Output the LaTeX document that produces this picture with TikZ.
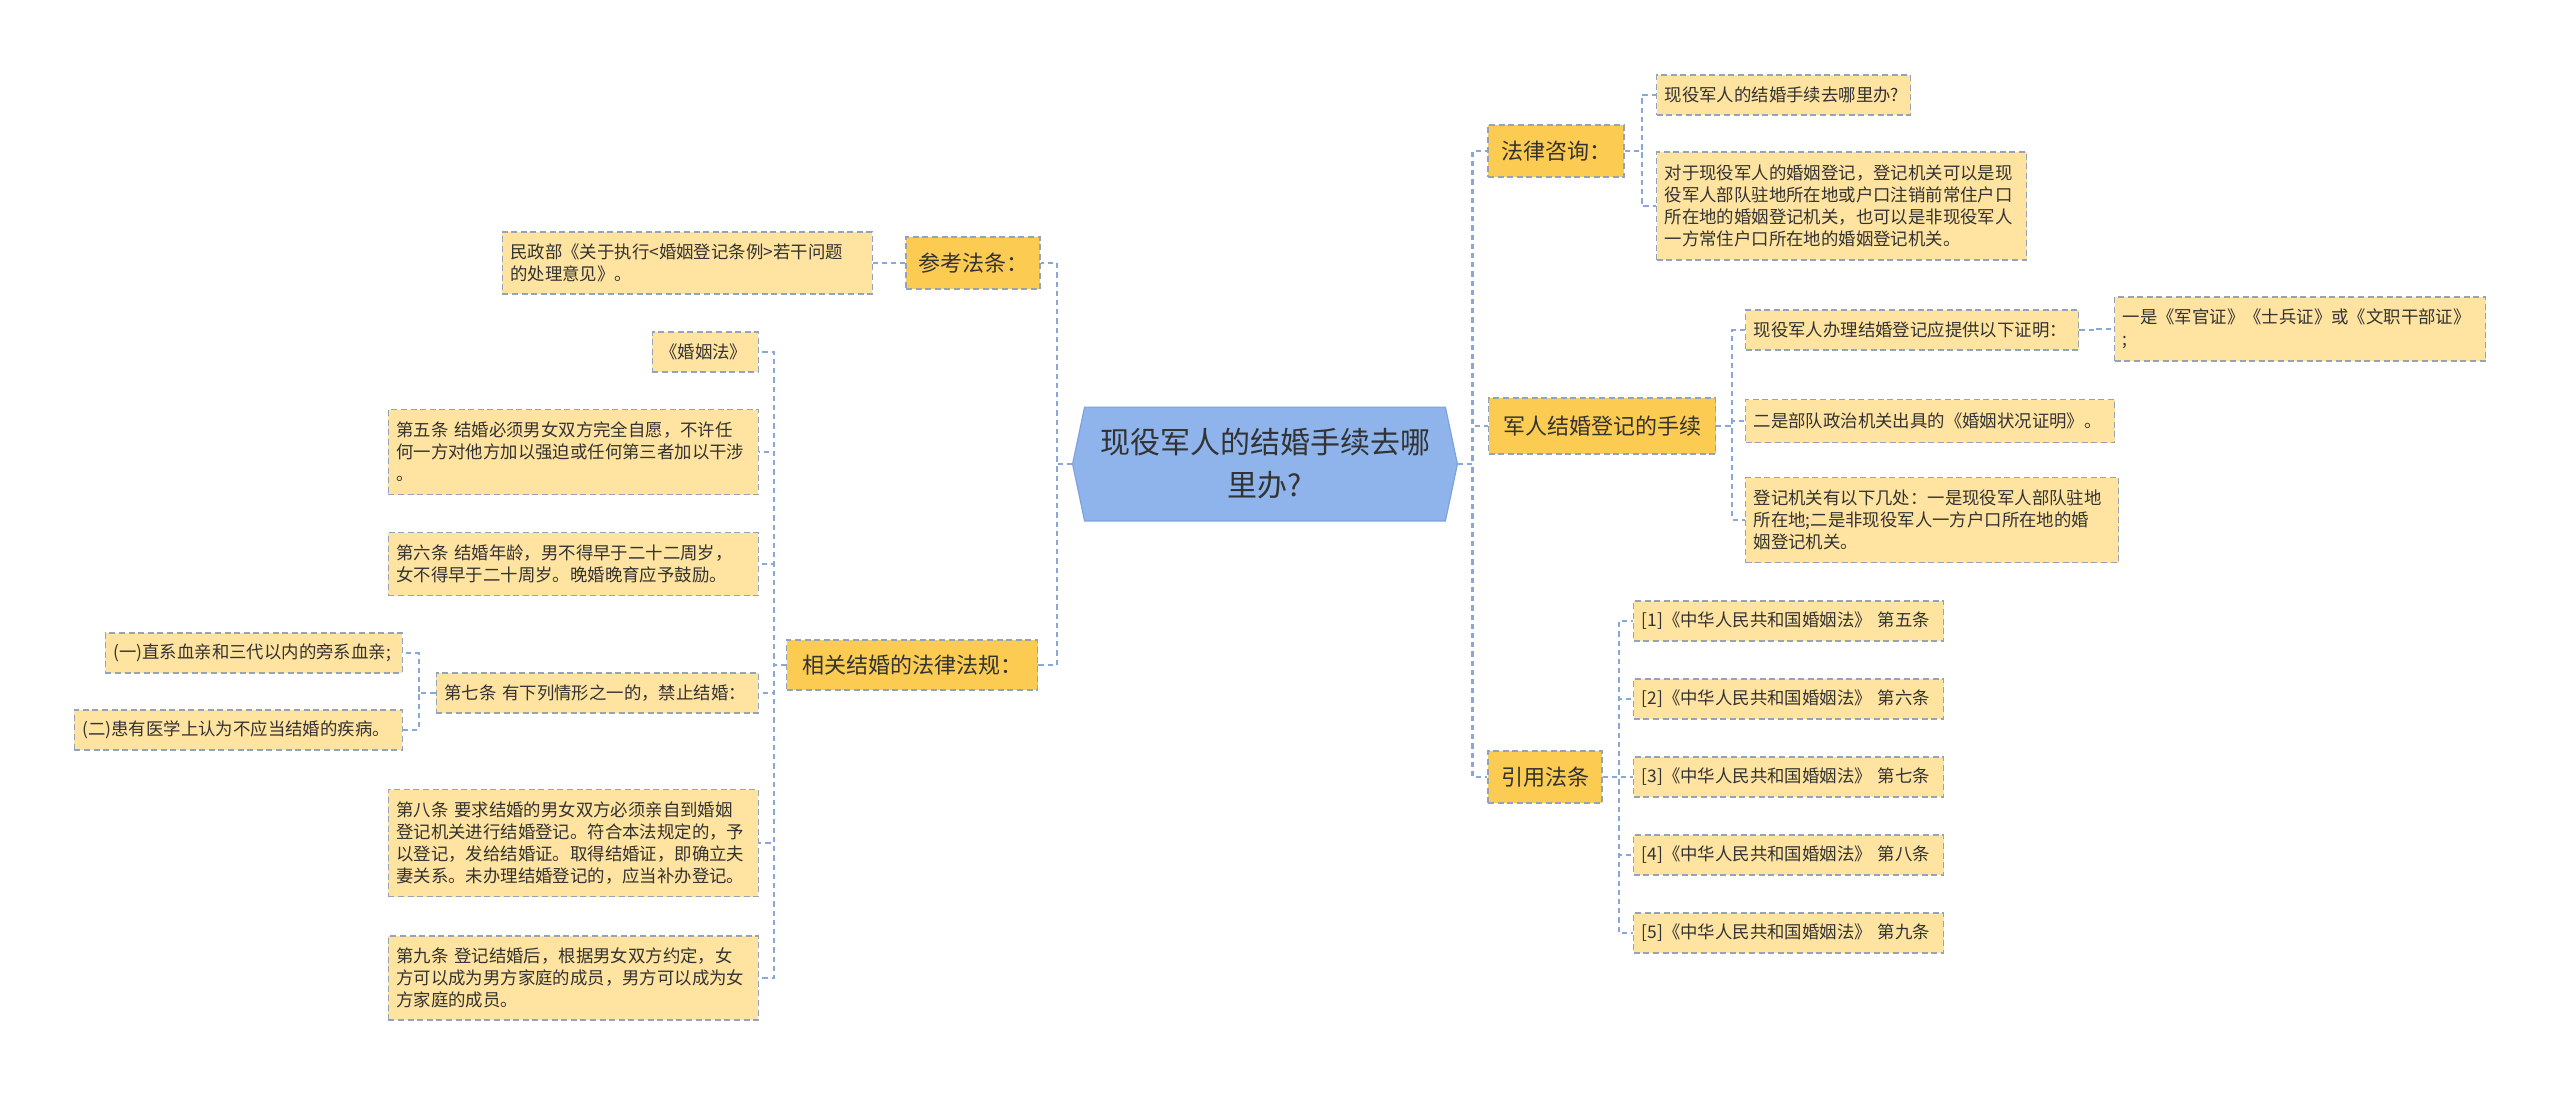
\documentclass[tikz,border=0pt]{standalone}
\usepackage{fontspec}
\newfontfamily\cjk{Noto Sans CJK SC}
\usetikzlibrary{positioning,backgrounds}
\definecolor{rootblue}{HTML}{8FB4EC}
\definecolor{rootline}{HTML}{7EA2DC}
\definecolor{topicgold}{HTML}{FBCB52}
\definecolor{leafyellow}{HTML}{FFE3A0}
\definecolor{boxline}{HTML}{95A3B8}
\definecolor{linkblue}{HTML}{89A7D8}
\definecolor{inkgray}{HTML}{333333}

\begin{document}
\begin{tikzpicture}[x=0.5pt,y=-0.5pt]
        \tikzstyle{conn}=[draw=linkblue, line width=1.1pt, dash pattern=on 2.6pt off 2pt]
        \tikzstyle{topic}=[draw=boxline, fill=topicgold, line width=0.7pt, dash pattern=on 3pt off 1.8pt, text=inkgray, font=\cjk\fontsize{11}{13}\selectfont, inner sep=0pt, minimum height=26pt]
        \tikzstyle{leaf}=[draw=boxline, fill=leafyellow, line width=0.7pt, dash pattern=on 3pt off 1.8pt, text=inkgray, font=\cjk\fontsize{8.7}{11}\selectfont, align=left, inner xsep=4pt, inner ysep=2pt, minimum height=20pt]

        \useasboundingbox (0,0) rectangle (2560,1097);

        \node[font=\cjk\fontsize{15}{21.5}\selectfont, text=inkgray, align=center, inner sep=0pt, minimum width=192pt, minimum height=56.5pt] (root) at (1265,464) {现役军人的结婚手续去哪\\里办?};

        % left side
        \node[topic, minimum width=67pt] (ckfl) at (973,263) {参考法条：};
        \node[topic, minimum width=125.5pt, minimum height=25pt] (xgfl) at (912,665) {相关结婚的法律法规：};

        \node[leaf, text width=177pt, minimum height=31pt, anchor=east] (mzb) at (873,263) {民政部《关于执行<婚姻登记条例>若干问题\\的处理意见》。};
        \node[leaf, text width=45pt, anchor=east] (hyf) at (759,352) {《婚姻法》};
        \node[leaf, text width=177pt, minimum height=42.5pt, anchor=east] (d5) at (759,452) {第五条 结婚必须男女双方完全自愿，不许任\\何一方对他方加以强迫或任何第三者加以干涉\\。};
        \node[leaf, text width=177pt, minimum height=31.5pt, anchor=east] (d6) at (759,564) {第六条 结婚年龄，男不得早于二十二周岁，\\女不得早于二十周岁。晚婚晚育应予鼓励。};
        \node[leaf, text width=153pt, anchor=east] (d7) at (759,693) {第七条 有下列情形之一的，禁止结婚：};
        \node[leaf, text width=140.5pt, anchor=east] (c1) at (403,653) {(一)直系血亲和三代以内的旁系血亲;};
        \node[leaf, text width=156pt, anchor=east] (c2) at (403,730) {(二)患有医学上认为不应当结婚的疾病。};
        \node[leaf, text width=177pt, minimum height=53.5pt, anchor=east] (d8) at (759,843) {第八条 要求结婚的男女双方必须亲自到婚姻\\登记机关进行结婚登记。符合本法规定的，予\\以登记，发给结婚证。取得结婚证，即确立夫\\妻关系。未办理结婚登记的，应当补办登记。};
        \node[leaf, text width=177pt, minimum height=42pt, anchor=east] (d9) at (759,978) {第九条 登记结婚后，根据男女双方约定，女\\方可以成为男方家庭的成员，男方可以成为女\\方家庭的成员。};

        % right side
        \node[topic, minimum width=68pt] (flzx) at (1556,151) {法律咨询：};
        \node[topic, minimum width=113.5pt, minimum height=28pt] (jrsx) at (1602,426) {军人结婚登记的手续};
        \node[topic, minimum width=57pt] (yyft) at (1545,777) {引用法条};

        \node[leaf, text width=119pt, anchor=west] (q1) at (1656,95) {现役军人的结婚手续去哪里办?};
        \node[leaf, text width=177pt, minimum height=54pt, anchor=west] (q2) at (1656,206) {对于现役军人的婚姻登记，登记机关可以是现\\役军人部队驻地所在地或户口注销前常住户口\\所在地的婚姻登记机关，也可以是非现役军人\\一方常住户口所在地的婚姻登记机关。};
        \node[leaf, text width=158.5pt, anchor=west] (r1) at (1745,330) {现役军人办理结婚登记应提供以下证明：};
        \node[leaf, text width=177.5pt, minimum height=32pt, anchor=west] (r1a) at (2114,329) {一是《军官证》《士兵证》或《文职干部证》\\;};
        \node[leaf, text width=176.5pt, minimum height=21.5pt, anchor=west] (r2) at (1745,421) {二是部队政治机关出具的《婚姻状况证明》。};
        \node[leaf, text width=178.5pt, minimum height=42.5pt, anchor=west] (r3) at (1745,520) {登记机关有以下几处：一是现役军人部队驻地\\所在地;二是非现役军人一方户口所在地的婚\\姻登记机关。};
        \foreach \idx/\art/\yy in {1/五/621, 2/六/699, 3/七/777, 4/八/855, 5/九/933}
            \node[leaf, text width=147pt, anchor=west] (cite\idx) at (1633,\yy) {[\idx]《中华人民共和国婚姻法》 第\art 条};

        \begin{scope}[on background layer]
            \fill[white] (0,0) rectangle (2560,1097);
            \filldraw[fill=rootblue, draw=rootline, line width=0.6pt] (root.west) -- ([xshift=6pt]root.north west) -- ([xshift=-6pt]root.north east) -- (root.east) -- ([xshift=-6pt]root.south east) -- ([xshift=6pt]root.south west) -- cycle;
        \end{scope}

        \draw[conn] (root.west) -- ++(-16,0) |- (ckfl.east);
        \draw[conn] (root.west) -- ++(-16,0) |- (xgfl.east);
        \draw[conn] (ckfl.west) -- (mzb.east);
        \foreach \c in {hyf,d5,d6,d7,d8,d9}
            \draw[conn] (xgfl.west) -- ++(-12,0) |- (\c.east);
        \draw[conn] (d7.west) -- ++(-17,0) |- (c1.east);
        \draw[conn] (d7.west) -- ++(-17,0) |- (c2.east);

        \foreach \c in {flzx,jrsx,yyft}
            \draw[conn] (root.east) -- ++(15,0) |- (\c.west);
        \draw[conn] (flzx.east) -- ++(17,0) |- (q1.west);
        \draw[conn] (flzx.east) -- ++(17,0) |- (q2.west);
        \foreach \c in {r1,r2,r3}
            \draw[conn] (jrsx.east) -- ++(16,0) |- (\c.west);
        \draw[conn] (r1.east) -- ++(18,0) |- (r1a.west);
        \foreach \idx in {1,...,5}
            \draw[conn] (yyft.east) -- ++(16,0) |- (cite\idx.west);
\end{tikzpicture}
\end{document}
